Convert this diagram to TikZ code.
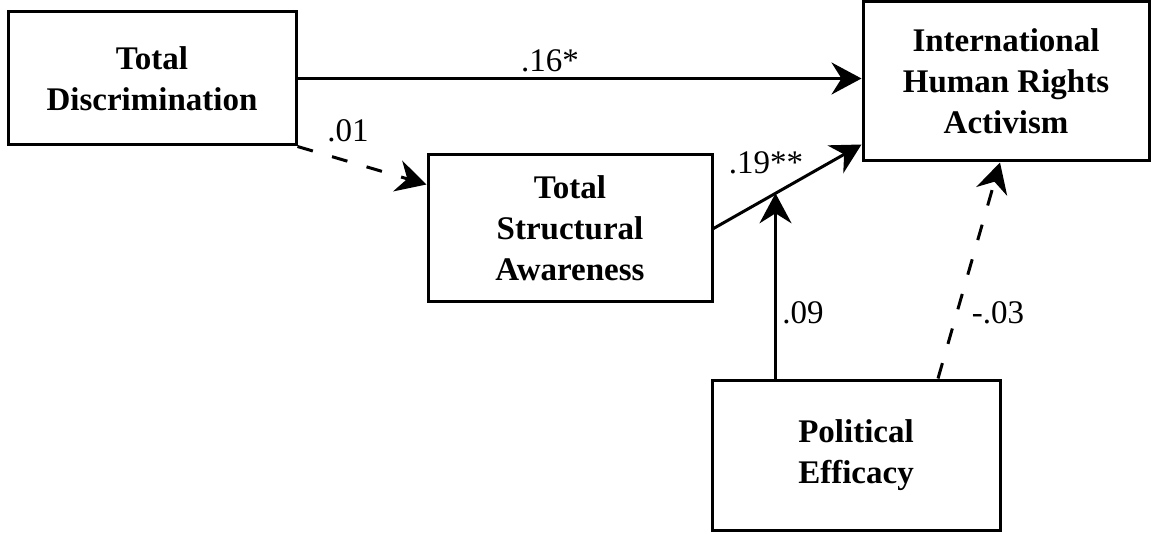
\documentclass[tikz,border=0pt]{standalone}
\usepackage{fontspec}
\setmainfont{Liberation Serif}
\usetikzlibrary{arrows.meta,calc}
\begin{document}
\begin{tikzpicture}[x=0.5pt,y=-0.5pt,
  box/.style={draw,line width=1.5pt,rectangle,align=center,font=\fontsize{16.5}{20.5}\selectfont\bfseries,inner sep=0pt},
  lab/.style={font=\fontsize{16.5}{20}\selectfont,inner sep=0pt},
  arr/.style={line width=1.5pt,-{Stealth[length=15pt,width=16pt,inset=5pt]}},
  dsh/.style={arr,dash pattern=on 8pt off 10pt}]
\useasboundingbox (0,0) rectangle (1151,534);
\node[box,minimum width=144pt,minimum height=66.5pt] (A) at (152,78.5) {Total\\Discrimination};
\node[box,minimum width=142pt,minimum height=73.5pt] (B) at (570,228.5) {Total\\Structural\\Awareness};
\node[box,minimum width=143pt,minimum height=79.5pt] (C) at (1006,81.5) {International\\Human Rights\\Activism};
\node[box,minimum width=144pt,minimum height=75pt] (D) at (856,455) {Political\\Efficacy};
\coordinate (ct) at ([yshift=9pt]C.south west);
\coordinate (m) at ($(B.east)!0.419!(ct)$);
\draw[arr] (A.east) -- (A.east -| C.west);
\draw[dsh] (A.south east) -- ([yshift=-15.5pt]B.north west);
\draw[arr] (B.east) -- (ct);
\draw[arr] (D.north -| m) -- (m);
\draw[dsh] ([xshift=41pt]D.north) -- ([xshift=-3pt]C.south);
\node[lab] (l1) at (550,61) {.16*};
\node[lab] (l2) at (348,131) {.01};
\node[lab] (l3) at (766,163) {.19**};
\node[lab] (l4) at (803,313) {.09};
\node[lab] (l5) at (998,313) {-.03};
\end{tikzpicture}
\end{document}
